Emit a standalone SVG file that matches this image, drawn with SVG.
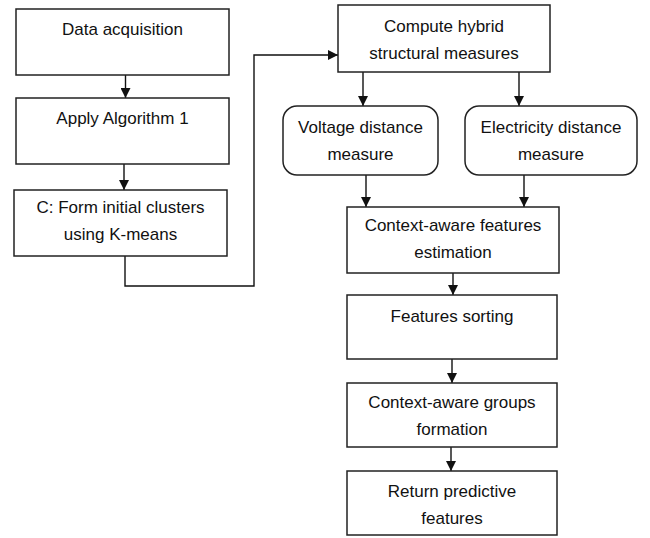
<svg xmlns="http://www.w3.org/2000/svg" width="650" height="538" viewBox="0 0 650 538">
<style>
.box{fill:#fff;stroke:#222;stroke-width:1.5}
.t{font-family:"Liberation Sans",Arial,sans-serif;font-size:17px;fill:#111;text-anchor:middle}
.c{fill:none;stroke:#111;stroke-width:1.4}
</style>
<defs>
<marker id="ah" viewBox="0 0 10 10" refX="10" refY="5" markerWidth="10" markerHeight="10" markerUnits="userSpaceOnUse" orient="auto">
<path d="M0,0 L10,5 L0,10 Z" fill="#111"/>
</marker>
</defs>
<rect width="650" height="538" fill="#fff"/>
<g id="connectors">
<line class="c" x1="125.5" y1="75" x2="125.5" y2="98" marker-end="url(#ah)"/>
<line class="c" x1="124" y1="164" x2="124" y2="190" marker-end="url(#ah)"/>
<polyline class="c" points="125,256 125,286 254,286 254,55 338,55" marker-end="url(#ah)"/>
<line class="c" x1="363" y1="72" x2="363" y2="106" marker-end="url(#ah)"/>
<line class="c" x1="519" y1="72" x2="519" y2="106" marker-end="url(#ah)"/>
<line class="c" x1="366" y1="175" x2="366" y2="207" marker-end="url(#ah)"/>
<line class="c" x1="524" y1="175" x2="524" y2="207" marker-end="url(#ah)"/>
<line class="c" x1="453" y1="273" x2="453" y2="295" marker-end="url(#ah)"/>
<line class="c" x1="452" y1="359" x2="452" y2="383" marker-end="url(#ah)"/>
<line class="c" x1="451" y1="447" x2="451" y2="471" marker-end="url(#ah)"/>
</g>
<g id="n1"><rect class="box" x="16" y="9" width="213" height="66"/><text class="t" x="122.5" y="35">Data acquisition</text></g>
<g id="n2"><rect class="box" x="16" y="98" width="213" height="66"/><text class="t" x="122.5" y="124">Apply Algorithm 1</text></g>
<g id="n3"><rect class="box" x="14" y="190" width="213" height="66"/><text class="t" x="120.5" y="213">C: Form initial clusters</text><text class="t" x="120.5" y="240">using K-means</text></g>
<g id="n4"><rect class="box" x="338" y="5" width="212" height="67"/><text class="t" x="444" y="32">Compute hybrid</text><text class="t" x="444" y="59">structural measures</text></g>
<g id="n5"><rect class="box" x="283" y="106" width="155" height="69" rx="14"/><text class="t" x="360.5" y="133">Voltage distance</text><text class="t" x="360.5" y="160">measure</text></g>
<g id="n6"><rect class="box" x="465" y="106" width="172" height="69" rx="14"/><text class="t" x="551" y="133">Electricity distance</text><text class="t" x="551" y="160">measure</text></g>
<g id="n7"><rect class="box" x="347" y="207" width="212" height="66"/><text class="t" x="453" y="231">Context-aware features</text><text class="t" x="453" y="258">estimation</text></g>
<g id="n8"><rect class="box" x="347" y="295" width="210" height="64"/><text class="t" x="452" y="322">Features sorting</text></g>
<g id="n9"><rect class="box" x="347" y="383" width="210" height="64"/><text class="t" x="452" y="408">Context-aware groups</text><text class="t" x="452" y="435">formation</text></g>
<g id="n10"><rect class="box" x="347" y="471" width="210" height="64"/><text class="t" x="452" y="497">Return predictive</text><text class="t" x="452" y="524">features</text></g>
</svg>
